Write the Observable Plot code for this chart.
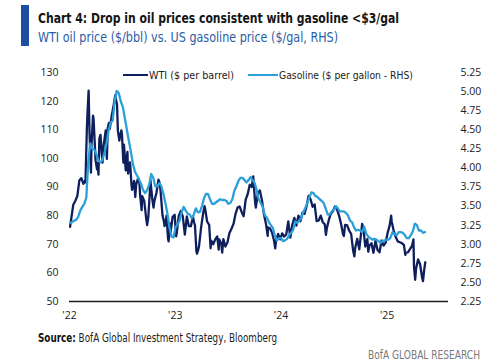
<!DOCTYPE html>
<html><head><meta charset="utf-8">
<script src="https://cdn.jsdelivr.net/npm/d3@7"></script>
<script src="https://cdn.jsdelivr.net/npm/@observablehq/plot@0.6"></script>
<style>
html,body{margin:0;padding:0;background:#fff;}
#wrap{position:relative;width:500px;height:364px;overflow:hidden;}
#chart{position:absolute;left:0;top:0;}
.t{position:absolute;white-space:nowrap;line-height:1;transform-origin:0 0;font-family:"Liberation Sans Narrow","DejaVu Sans Condensed","Open Sans",sans-serif;}
#bar{position:absolute;left:21px;top:5px;width:8px;height:41px;background:#1c4f9f;}
#title{left:38px;top:11px;font-size:14px;font-weight:bold;color:#141414;}
#subtitle{left:38px;top:30px;font-size:14px;color:#2a5ca6;}
#source{left:38px;top:333px;font-size:11.5px;color:#222;}
#source b{font-weight:bold;color:#111;}
#brand{left:368px;top:349px;font-size:12px;color:#7a7a7a;}
.leg{position:absolute;height:2.5px;}
#legw{left:123px;top:73.5px;width:25px;background:#0d1f5c;}
#legg{left:248px;top:73.5px;width:30px;background:#2b9fd9;}
#legwt{left:149px;top:70px;font-size:10.5px;color:#222;}
#leggt{left:279px;top:70px;font-size:10.5px;color:#222;}
</style>
</head><body>
<div id="wrap">
  <div id="chart"></div>
  <div id="bar"></div>
  <div class="t" id="title">Chart 4: Drop in oil prices consistent with gasoline &lt;$3/gal</div>
  <div class="t" id="subtitle">WTI oil price ($/bbl) vs. US gasoline price ($/gal, RHS)</div>
  <div class="leg" id="legw"></div>
  <div class="t" id="legwt">WTI ($ per barrel)</div>
  <div class="leg" id="legg"></div>
  <div class="t" id="leggt">Gasoline ($ per gallon - RHS)</div>
  <div class="t" id="source"><b>Source:</b> BofA Global Investment Strategy, Bloomberg</div>
  <div class="t" id="brand">BofA GLOBAL RESEARCH</div>
</div>
<script>
// WTI oil price, $ per barrel (date MM-DD, value)
const wti2022 = [["01-03",76.1],["01-07",78.9],["01-14",83.8],["01-21",85.1],["01-28",86.8],["02-04",92.3],["02-11",93.1],["02-18",91.1],["02-23",92.1],["02-25",91.6],
["03-02",110.6],["03-04",115.7],["03-08",123.7],["03-11",109.3],["03-16",95.0],["03-18",104.7],["03-23",114.9],["03-25",113.9],["04-01",99.3],["04-06",96.2],
["04-08",98.3],["04-11",94.3],["04-14",106.9],["04-18",108.2],["04-22",102.1],["04-25",98.5],["04-29",104.7],["05-06",109.8],["05-10",99.8],["05-13",110.5],
["05-17",112.4],["05-20",110.3],["05-27",115.1],["06-03",118.9],["06-08",122.1],["06-10",120.7],["06-14",118.9],["06-17",109.6],["06-22",106.2],["06-24",107.6],
["06-29",109.8],["07-01",108.4],["07-06",98.5],["07-08",104.8],["07-14",95.8],["07-15",97.6],["07-20",102.3],["07-22",94.7],["07-29",98.6],["08-03",90.7],
["08-05",89.0],["08-12",92.1],["08-16",86.5],["08-19",90.8],["08-26",93.1],["08-30",91.6],["09-02",86.9],["09-07",81.9],["09-09",86.8],["09-16",85.1],
["09-23",78.7],["09-26",76.7],["09-30",79.5],["10-05",87.8],["10-07",92.6],["10-14",85.6],["10-18",82.8],["10-21",85.1],["10-28",87.9],["11-04",92.6],
["11-07",91.8],["11-11",89.0],["11-18",80.1],["11-23",77.9],["11-25",76.3],["11-28",77.2],["12-02",80.0],["12-07",72.0],["12-09",71.0],["12-14",77.3],
["12-16",74.3],["12-23",79.6],["12-30",80.3]];
const wti2023 = [["01-04",72.8],["01-06",73.8],["01-13",79.9],["01-20",81.6],["01-27",79.7],["02-03",73.4],["02-10",79.7],["02-17",76.3],["02-24",76.3],["03-03",79.7],
["03-07",77.6],["03-10",76.7],["03-15",67.6],["03-17",66.7],["03-20",67.6],["03-24",69.3],["03-31",75.7],["04-07",80.7],["04-12",83.3],["04-14",82.5],
["04-21",77.9],["04-28",76.8],["05-03",68.6],["05-05",71.3],["05-12",70.0],["05-19",71.7],["05-26",72.7],["05-31",68.1],["06-02",71.7],["06-09",70.2],
["06-12",67.1],["06-16",71.8],["06-23",69.2],["06-30",70.6],["07-07",73.9],["07-14",75.4],["07-21",77.1],["07-28",80.6],["08-04",82.8],["08-11",83.2],
["08-18",81.3],["08-25",79.8],["09-01",85.6],["09-08",87.5],["09-15",90.8],["09-22",90.0],["09-27",93.7],["09-29",90.8],["10-04",84.2],["10-06",82.8],
["10-13",87.7],["10-20",88.8],["10-27",85.5],["11-03",80.5],["11-10",77.2],["11-16",72.9],["11-17",75.9],["11-24",75.5],["12-01",74.1],["12-08",71.2],
["12-12",68.6],["12-15",71.4],["12-22",73.6],["12-29",71.7]];
const wti2024 = [["01-05",73.8],["01-12",72.7],["01-19",73.4],["01-26",78.0],["02-02",72.3],["02-09",76.8],["02-16",79.2],["02-23",76.5],["03-01",80.0],["03-08",78.0],
["03-15",81.0],["03-22",80.6],["03-29",83.2],["04-05",86.9],["04-12",85.7],["04-19",83.1],["04-26",83.9],["05-03",78.1],["05-10",78.3],["05-17",80.0],
["05-24",77.7],["05-31",77.0],["06-04",73.3],["06-07",75.5],["06-14",78.5],["06-21",80.7],["06-28",81.5],["07-05",83.2],["07-12",82.2],["07-19",80.1],
["07-26",77.2],["08-02",73.5],["08-05",72.9],["08-09",76.8],["08-16",76.7],["08-23",74.8],["08-30",73.6],["09-06",67.7],["09-10",65.8],["09-13",68.7],
["09-20",71.9],["09-27",68.2],["10-04",74.4],["10-07",77.1],["10-11",75.6],["10-18",69.2],["10-25",71.8],["10-28",67.4],["11-01",69.5],["11-08",70.4],
["11-15",67.0],["11-22",71.2],["11-29",68.0],["12-06",67.2],["12-13",71.3],["12-20",69.5],["12-27",70.6]];
const wti2025 = [["01-03",74.0],["01-10",76.6],["01-15",80.0],["01-17",77.9],["01-24",74.7],["01-31",72.5],["02-07",71.0],["02-14",70.7],["02-21",70.4],["02-28",69.8],
["03-05",66.3],["03-07",67.0],["03-14",67.2],["03-21",68.3],["03-28",69.4],["04-02",71.7],["04-04",62.0],["04-08",57.6],["04-11",61.5],["04-18",64.7],
["04-25",63.0],["05-02",58.3],["05-05",57.1],["05-09",61.0],["05-13",63.7]];

// US retail gasoline, $ per gallon, weekly from first Monday
const gasStart = "2022-01-03";
const gas2022 = [3.28,3.29,3.31,3.32,3.36,3.44,3.49,3.53,3.61,4.10,4.32,4.25,4.24,4.17,4.10,4.07,4.11,4.20,4.33,4.49,4.59,4.62,4.87,5.01,4.98,4.87,
4.80,4.65,4.50,4.35,4.21,4.05,3.95,3.90,3.85,3.79,3.71,3.67,3.71,3.78,3.92,3.87,3.76,3.76,3.80,3.76,3.66,3.54,3.40,3.22,3.10,3.09];
const gas2023 = [3.22,3.26,3.31,3.42,3.49,3.44,3.40,3.39,3.34,3.39,3.47,3.42,3.42,3.50,3.60,3.66,3.66,3.59,3.53,3.53,3.55,3.57,3.59,3.58,3.58,3.57,
3.53,3.54,3.59,3.70,3.76,3.83,3.87,3.87,3.84,3.81,3.84,3.88,3.84,3.80,3.71,3.59,3.54,3.49,3.38,3.35,3.29,3.25,3.21,3.11,3.05,3.08];
const gas2024 = [3.08,3.04,3.05,3.07,3.12,3.15,3.19,3.30,3.28,3.31,3.35,3.42,3.48,3.54,3.62,3.68,3.67,3.63,3.62,3.59,3.57,3.54,3.47,3.39,3.39,3.43,
3.45,3.50,3.47,3.43,3.43,3.43,3.41,3.38,3.31,3.29,3.22,3.18,3.19,3.18,3.16,3.23,3.14,3.10,3.08,3.06,3.07,3.06,3.04,3.02,3.04,3.05,3.06];
const gas2025 = [3.06,3.09,3.16,3.13,3.12,3.16,3.16,3.15,3.12,3.08,3.08,3.12,3.17,3.27,3.25,3.18,3.18,3.15,3.16];

// axes
const leftTicks = [50,60,70,80,90,100,110,120,130];
const rightTicks = [2.25,2.50,2.75,3.00,3.25,3.50,3.75,4.00,4.25,4.50,4.75,5.00,5.25];
const yearTicks = ["2022-01-01","2023-01-01","2024-01-01","2025-01-01"];
const yearLabels = ["'22","'23","'24","'25"];

const wti = [[2022,wti2022],[2023,wti2023],[2024,wti2024],[2025,wti2025]]
  .flatMap(([y,arr]) => arr.map(([md,v]) => ({date: new Date(`${y}-${md}T00:00:00Z`), value: v})));
const gasVals = [...gas2022, ...gas2023, ...gas2024, ...gas2025];
const g0 = new Date(gasStart + "T00:00:00Z");
const gas = gasVals.map((v,i) => ({date: d3.utcDay.offset(g0, 7*i), value: v}));

// map right axis ($/gal) onto left scale ($/bbl)
const toLeft = g => 50 + (g - 2.25) * 80 / 3;
const fromLeft = w => 2.25 + (w - 50) * 3 / 80;

const plot = Plot.plot({
  width: 500, height: 364,
  marginLeft: 69, marginRight: 52, marginTop: 72, marginBottom: 63,
  style: {fontFamily: "'Open Sans', sans-serif", fontSize: "10.5px", color: "#222", background: "transparent"},
  x: {type: "utc", domain: [new Date("2022-01-01T00:00:00Z"), new Date("2025-08-01T00:00:00Z")]},
  y: {domain: [50, 130]},
  marks: [
    Plot.axisY(leftTicks, {anchor: "left", tickSize: 0, tickPadding: 11, label: null}),
    Plot.axisY(rightTicks.map(toLeft), {anchor: "right", tickSize: 0, tickPadding: 12, label: null,
      tickFormat: v => fromLeft(v).toFixed(2)}),
    Plot.axisX(yearTicks.map(d => new Date(d + "T00:00:00Z")), {anchor: "bottom", tickSize: 0, tickPadding: 10, label: null,
      tickFormat: (d, i) => yearLabels[i]}),
    Plot.lineY(wti, {x: "date", y: "value", stroke: "#0d1f5c", strokeWidth: 2.3, strokeLinejoin: "round"}),
    Plot.lineY(gas, {x: "date", y: d => toLeft(d.value), stroke: "#2b9fd9", strokeWidth: 2.3}),
    Plot.ruleY([50], {stroke: "#1a1a1a", strokeWidth: 1.5})
  ]
});
document.getElementById("chart").appendChild(plot);

// fit text widths to the reference
function fit(id, w) {
  const el = document.getElementById(id);
  const r = el.getBoundingClientRect().width;
  if (r > 0) el.style.transform = `scaleX(${w / r})`;
}
fit("title", 361); fit("subtitle", 300); fit("source", 239); fit("brand", 112);
fit("legwt", 85); fit("leggt", 134);
</script>
</body></html>
